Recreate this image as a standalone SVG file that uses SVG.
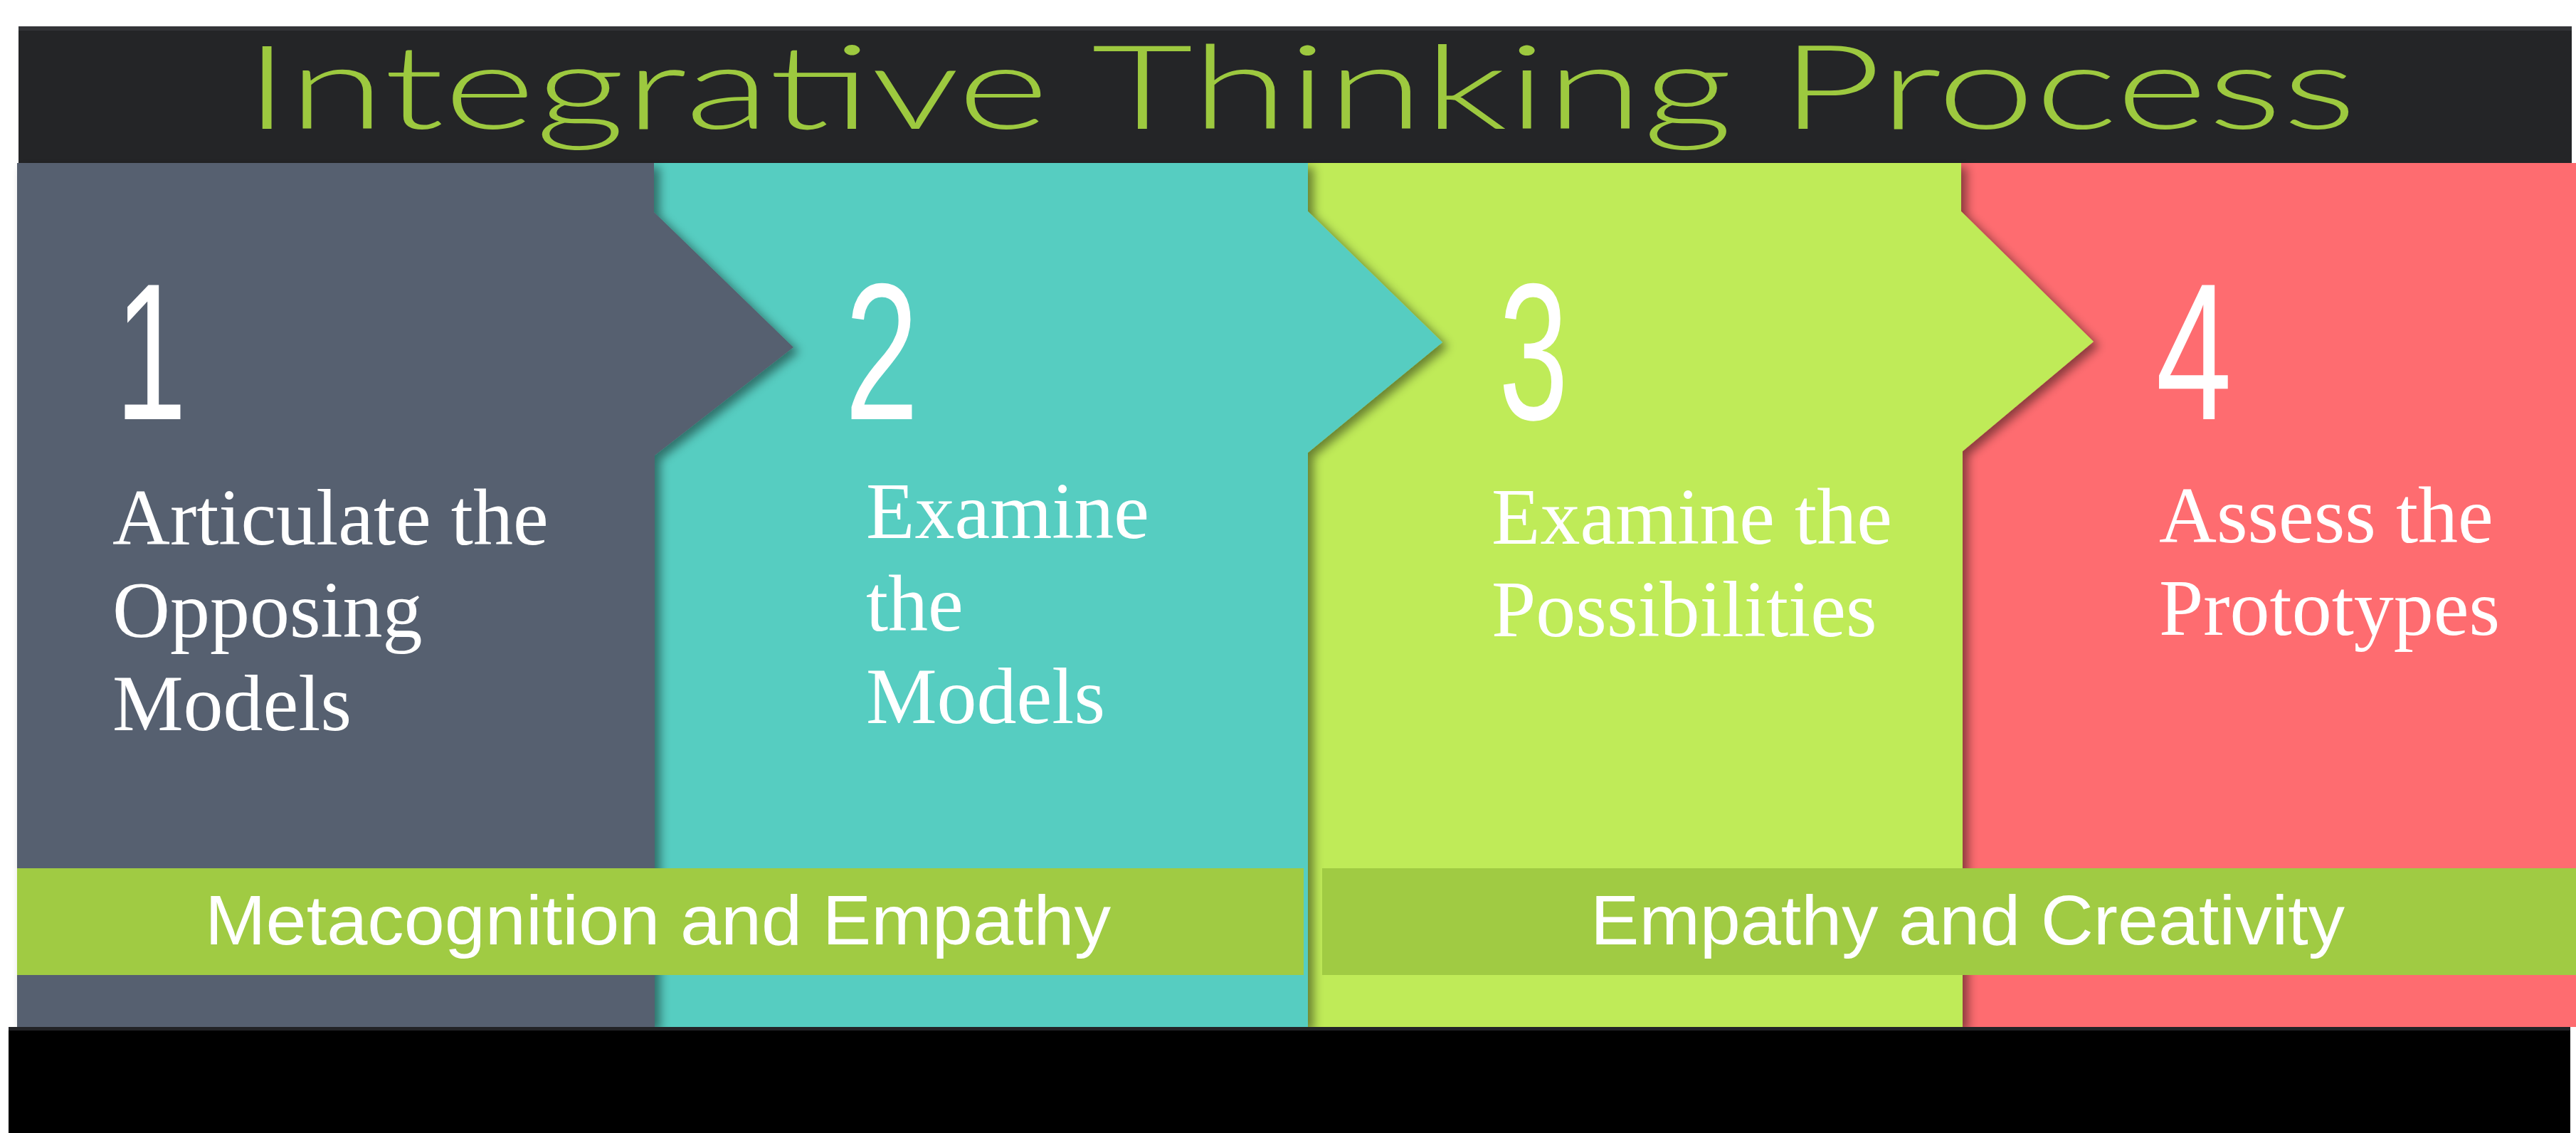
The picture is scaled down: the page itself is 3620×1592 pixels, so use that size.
<svg xmlns="http://www.w3.org/2000/svg" width="3620" height="1592" viewBox="0 0 3620 1592">
<style>
.step{font-family:"Liberation Serif","Times New Roman",serif;font-size:112px;fill:#ffffff}
.num{font-family:"Liberation Sans",Arial,sans-serif;font-size:274px;fill:#ffffff;text-anchor:middle}
.band{font-family:"Liberation Sans",Arial,sans-serif;font-size:99px;fill:#ffffff}
.title{font-family:Lato,"Liberation Sans",Arial,sans-serif;font-weight:300;font-size:164px;fill:#9dc93f}
</style>
<defs>
<filter id="sh" x="-10%" y="-10%" width="130%" height="130%">
<feDropShadow dx="8" dy="6" stdDeviation="7" flood-color="#000000" flood-opacity="0.45"/>
</filter>
</defs>
<rect x="0" y="0" width="3620" height="1592" fill="#ffffff"/>
<g id="title-bar">
<rect x="26" y="37" width="3588" height="192" fill="#242527"/>
<rect x="26" y="37" width="3588" height="6" fill="#333437"/>
<text class="title" x="343" y="181" textLength="2969" lengthAdjust="spacingAndGlyphs">Integrative Thinking Process</text>
</g>
<g id="step4">
<path d="M2756,229 H3620 V1443 H2756 Z" fill="#fe6c70"/>
<text class="num" transform="translate(3083,589) scale(0.7,1)">4</text>
<text class="step" x="3034" y="762">Assess the</text>
<text class="step" x="3034" y="892">Prototypes</text>
</g>
<g id="step3">
<path d="M1838,229 H2756 V297 L2942,480 L2758,634 V1443 H1838 Z" fill="#bfeb58" filter="url(#sh)"/>
<text class="num" transform="translate(2155,589) scale(0.64,1)">3</text>
<text class="step" x="2096" y="764">Examine the</text>
<text class="step" x="2096" y="894">Possibilities</text>
</g>
<g id="step2">
<path d="M919,229 H1838 V297 L2027,481 L1838,636 V1443 H919 Z" fill="#56cdc1" filter="url(#sh)"/>
<text class="num" transform="translate(1239,589) scale(0.68,1)">2</text>
<text class="step" x="1217" y="756">Examine</text>
<text class="step" x="1217" y="886">the</text>
<text class="step" x="1217" y="1016">Models</text>
</g>
<g id="step1">
<path d="M24,229 H919 V298 L1115,488 L920,640 V1443 H24 Z" fill="#56616f" filter="url(#sh)"/>
<text class="num" transform="translate(212,589) scale(0.66,1)">1</text>
<text class="step" x="158" y="765">Articulate the</text>
<text class="step" x="158" y="895">Opposing</text>
<text class="step" x="158" y="1026">Models</text>
</g>
<g id="band1">
<rect x="24" y="1220" width="1808" height="150" fill="#a0cb43"/>
<text class="band" x="288" y="1327" textLength="1273" lengthAdjust="spacingAndGlyphs">Metacognition and Empathy</text>
</g>
<g id="band2">
<rect x="1858" y="1220" width="1762" height="150" fill="#a0cb43"/>
<text class="band" x="2235" y="1327" textLength="1060" lengthAdjust="spacingAndGlyphs">Empathy and Creativity</text>
</g>
<g id="connectors"></g>
<g id="footer">
<rect x="12" y="1443" width="3600" height="149" fill="#000000"/>
<rect x="12" y="1443" width="3600" height="5" fill="#222326"/>
</g>
</svg>
